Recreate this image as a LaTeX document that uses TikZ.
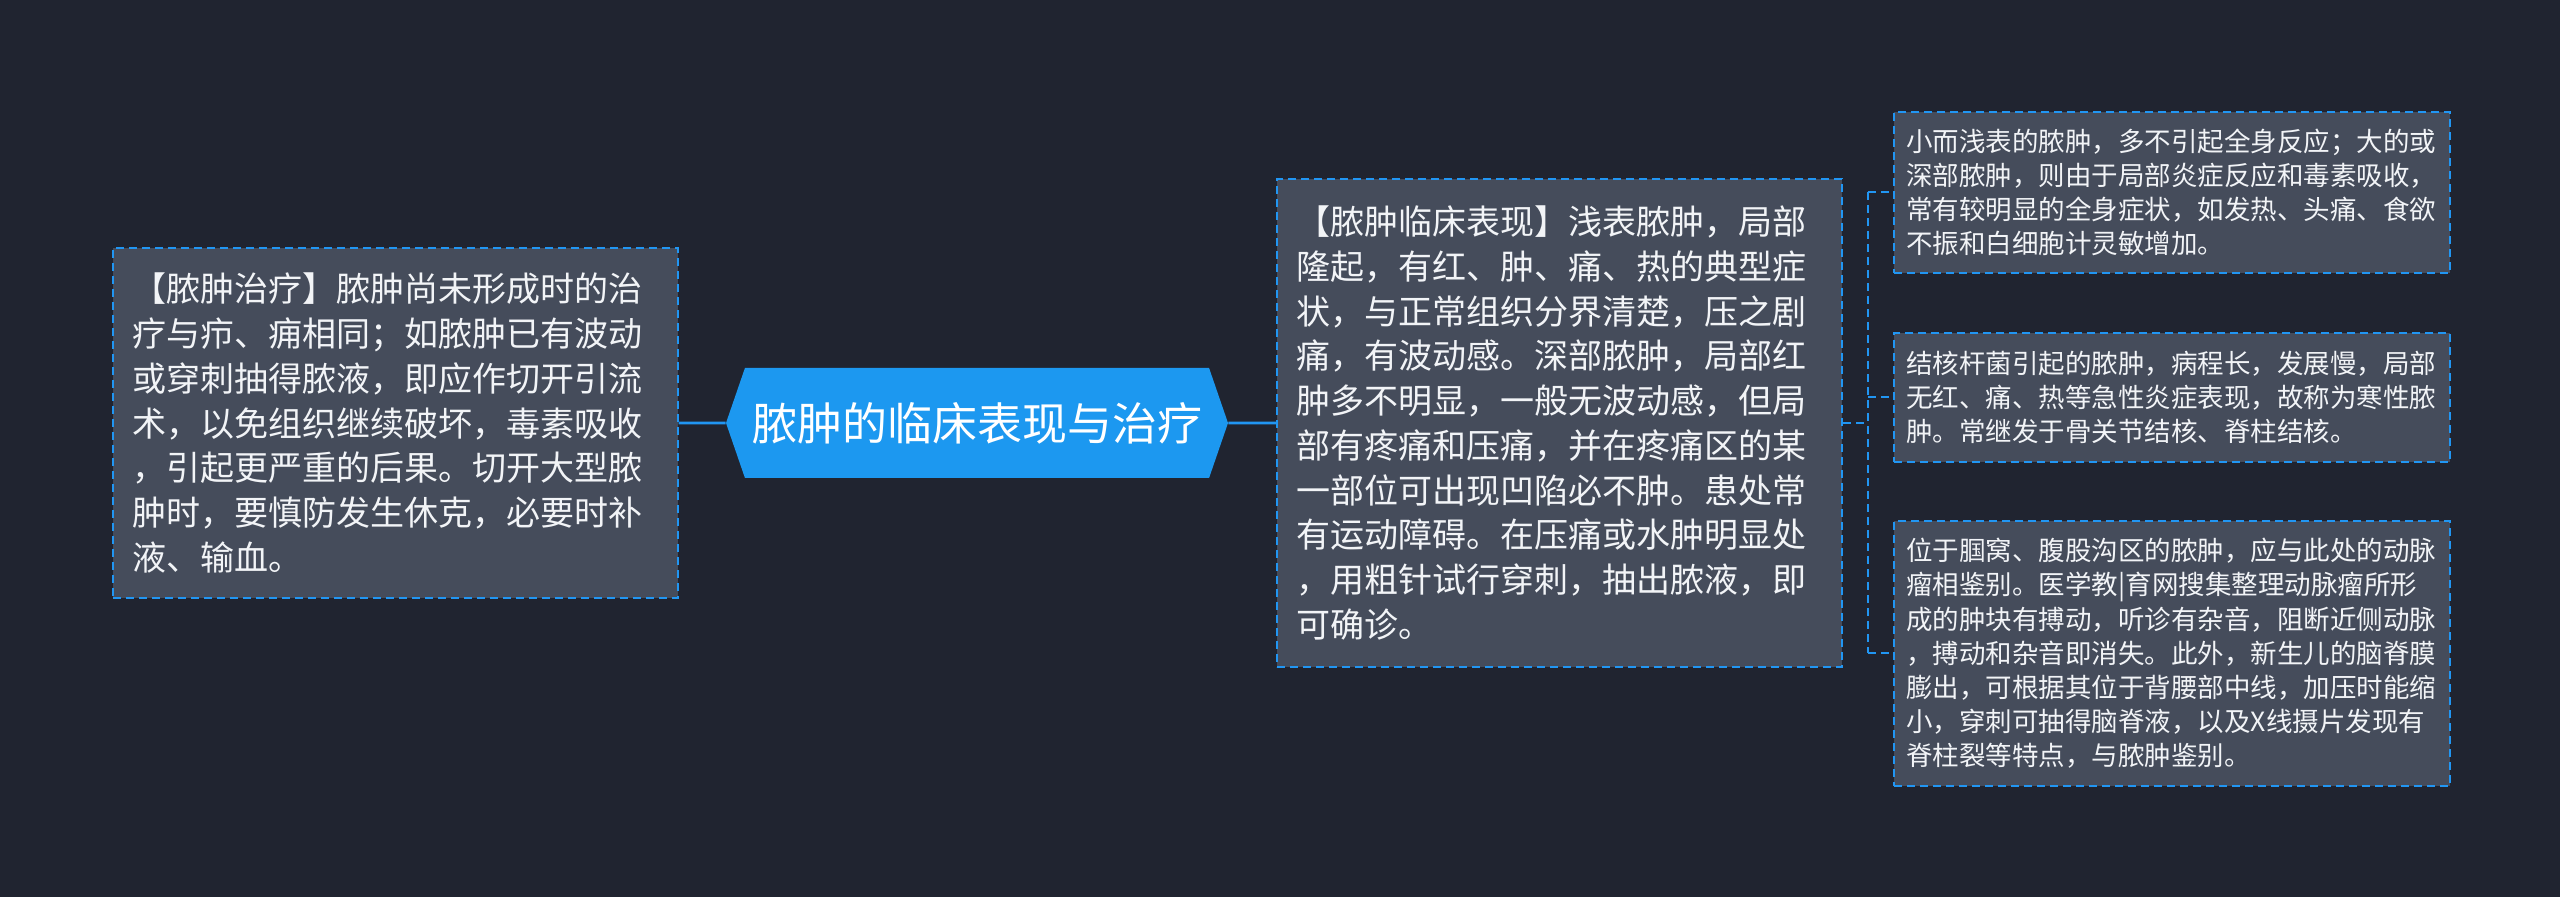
\documentclass[tikz,border=0pt]{standalone}
\usepackage{fontspec}
\setmainfont{Noto Sans CJK SC}
\usetikzlibrary{positioning,shapes.symbols}

\definecolor{bgdark}{RGB}{32,36,48}
\definecolor{boxgrey}{RGB}{69,76,91}
\definecolor{linkblue}{RGB}{33,150,243}
\definecolor{rootblue}{RGB}{28,152,240}
\definecolor{inkwhite}{RGB}{242,244,247}

\tikzset{
  root/.style={signal, signal to=east and west, signal pointer angle=142,
    fill=rootblue, text=white, minimum width=251pt, minimum height=55pt,
    inner sep=0pt, font=\fontsize{22.5pt}{27pt}\selectfont},
  topic/.style={draw=linkblue, line width=1pt, dash pattern=on 4pt off 2.5pt,
    fill=boxgrey, text=inkwhite, align=left, text width=263pt,
    inner xsep=9.75pt, inner ysep=0pt, minimum height=175pt,
    font=\fontsize{17pt}{22.35pt}\selectfont},
  note/.style={draw=linkblue, line width=1pt, dash pattern=on 4pt off 2.5pt,
    fill=boxgrey, text=inkwhite, align=left, text width=266pt,
    inner xsep=6pt, inner ysep=0pt,
    font=\fontsize{13.25pt}{17.1pt}\selectfont},
  link/.style={draw=linkblue, line width=1.35pt},
  branch/.style={draw=linkblue, line width=1pt, dash pattern=on 4pt off 2.5pt}
}

\begin{document}
\begin{tikzpicture}[x=0.5pt,y=-0.5pt]
\fill[bgdark] (0,0) rectangle (2560,897);
\useasboundingbox (0,0) rectangle (2560,897);

\node[root] (root) at (977,423) {脓肿的临床表现与治疗};

\node[topic] (cure) [left=23.5pt of root] {【脓肿治疗】脓肿尚未形成时的治\\疗与疖、痈相同；如脓肿已有波动\\或穿刺抽得脓液，即应作切开引流\\术，以免组织继续破坏，毒素吸收\\，引起更严重的后果。切开大型脓\\肿时，要慎防发生休克，必要时补\\液、输血。};

\node[topic, minimum height=244pt] (sign) [right=24pt of root] {【脓肿临床表现】浅表脓肿，局部\\隆起，有红、肿、痛、热的典型症\\状，与正常组织分界清楚，压之剧\\痛，有波动感。深部脓肿，局部红\\肿多不明显，一般无波动感，但局\\部有疼痛和压痛，并在疼痛区的某\\一部位可出现凹陷必不肿。患处常\\有运动障碍。在压痛或水肿明显处\\，用粗针试行穿刺，抽出脓液，即\\可确诊。};

\node[note, minimum height=64.5pt] (cold) [right=25pt of sign, yshift=12.75pt] {结核杆菌引起的脓肿，病程长，发展慢，局部\\无红、痛、热等急性炎症表现，故称为寒性脓\\肿。常继发于骨关节结核、脊柱结核。};
\node[note, minimum height=80.5pt] (body) [above=29pt of cold] {小而浅表的脓肿，多不引起全身反应；大的或\\深部脓肿，则由于局部炎症反应和毒素吸收，\\常有较明显的全身症状，如发热、头痛、食欲\\不振和白细胞计灵敏增加。};
\node[note, minimum height=132.5pt] (diff) [below=28.5pt of cold] {位于腘窝、腹股沟区的脓肿，应与此处的动脉\\瘤相鉴别。医学教|育网搜集整理动脉瘤所形\\成的肿块有搏动，听诊有杂音，阻断近侧动脉\\，搏动和杂音即消失。此外，新生儿的脑脊膜\\膨出，可根据其位于背腰部中线，加压时能缩\\小，穿刺可抽得脑脊液，以及X线摄片发现有\\脊柱裂等特点，与脓肿鉴别。};

\coordinate (fork) at ([xshift=12.5pt]sign.east);

\draw[link] (cure) -- (root);
\draw[link] (root) -- (sign);
\draw[branch] (sign) -- (fork);
\draw[branch] (fork |- body.west) -- (fork |- diff.west);
\draw[branch] (fork |- body.west) -- (body);
\draw[branch] (fork |- cold.west) -- (cold);
\draw[branch] (fork |- diff.west) -- (diff);
\end{tikzpicture}
\end{document}
